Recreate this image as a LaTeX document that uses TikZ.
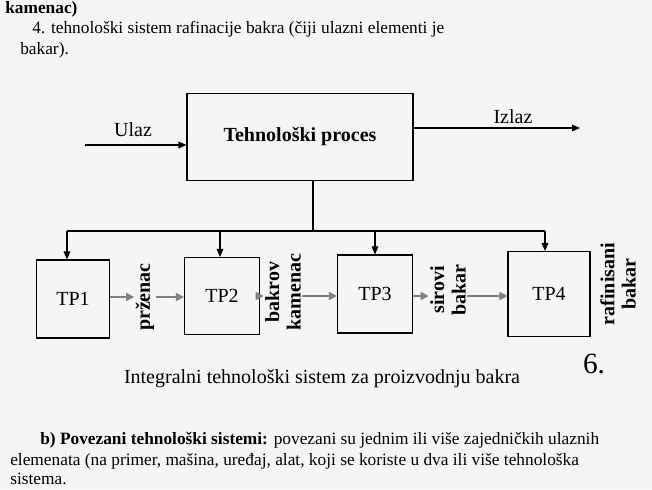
\documentclass[tikz,border=0pt]{standalone}
\usepackage{fontspec}
\setmainfont{Liberation Serif}
\usetikzlibrary{arrows.meta}
\newcommand{\fbig}{\fontsize{15}{16}\selectfont}
\newcommand{\fmid}{\fontsize{13}{14}\selectfont}
\begin{document}
\begin{tikzpicture}[x=0.75pt,y=-0.75pt,
  box/.style={draw,thick,minimum width=#1*0.75pt,inner sep=0pt,font=\fbig},
  conn/.style={thick,-{Triangle[length=6pt,width=5pt]}},
  gconn/.style={gray,very thick,-{Triangle[length=6pt,width=6pt]}},
  rlab/.style={rotate=90,font=\bfseries\fbig,align=center,inner sep=1pt},
  txt/.style={anchor=west,font=\fmid,inner sep=0pt}]
\useasboundingbox (0,0) rectangle (652,489);
\fill[black!4] (0,0) rectangle (652,489);
% page text
\node[txt,font=\bfseries\fmid] (t0) at (5,9) {kamenac)};
\node[txt] (t1) at (32,29) {4. tehnološki sistem rafinacije bakra (čiji ulazni elementi je};
\node[txt] (t2) at (20,50) {bakar).};
% main box
\node[box=226,minimum height=87*0.75pt,font=\bfseries\fbig] (tp) at (300,137) {Tehnološki proces};
\coordinate (in) at (85,145);
\draw[conn] (in) -- (in -| tp.west);
\node[font=\fbig] (ulaz) at (133,130) {Ulaz};
\coordinate (out) at (580,128);
\draw[conn] (out -| tp.east) -- (out);
\node[font=\fbig] (izlaz) at (513,117) {Izlaz};
% boxes
\node[box=73,minimum height=78*0.75pt] (p1) at (73,299) {TP1};
\node[box=75,minimum height=77*0.75pt] (p2) at (222,296) {TP2};
\node[box=75,minimum height=78*0.75pt] (p3) at (375,294) {TP3};
\node[box=82,minimum height=85*0.75pt] (p4) at (549,294) {TP4};
\coordinate (bus) at (313,231);
\draw[thick] (tp.south -| bus) -- (bus);
\draw[thick] (67,231) -- (545,231);
\draw[conn] (67,231) -- (67,231 |- p1.north);
\draw[conn] (220,231) -- (220,231 |- p2.north);
\draw[conn] (375,231) -- (375,231 |- p3.north);
\draw[conn] (545,231) -- (545,231 |- p4.north);
% labels
\node[rlab] (l1) at (145,297) {prženac};
\node[rlab] (l2) at (283,292) {bakrov\\kamenac};
\node[rlab] (l3) at (448,290) {sirovi\\bakar};
\node[rlab] (l4) at (618,284) {rafinisani\\bakar};
% gray arrows
\draw[gconn] (p1.east |- 0,297) -- (l1.north |- 0,297);
\draw[gconn] (l1.south |- 0,297) -- (p2.west |- 0,297);
\draw[gconn] (p2.east |- 0,296) -- (l2.north |- 0,296);
\draw[gconn] (l2.south |- 0,296) -- (p3.west |- 0,296);
\draw[gconn] (p3.east |- 0,296) -- (l3.north |- 0,296);
\draw[gconn] (l3.south |- 0,296) -- (p4.west |- 0,296);
\node[font=\fbig] (cap) at (322,379) {Integralni tehnološki sistem za proizvodnju bakra};
\node[font=\fontsize{22}{24}\selectfont] (six) at (594,364) {6.};
% bottom text
\node[txt] (b1) at (40,440) {\textbf{b) Povezani tehnološki sistemi:} povezani su jednim ili više zajedničkih ulaznih};
\node[txt] (b2) at (10,461) {elemenata (na primer, mašina, uređaj, alat, koji se koriste u dva ili više tehnološka};
\node[txt] (b3) at (10,479) {sistema.};
\end{tikzpicture}
\end{document}
